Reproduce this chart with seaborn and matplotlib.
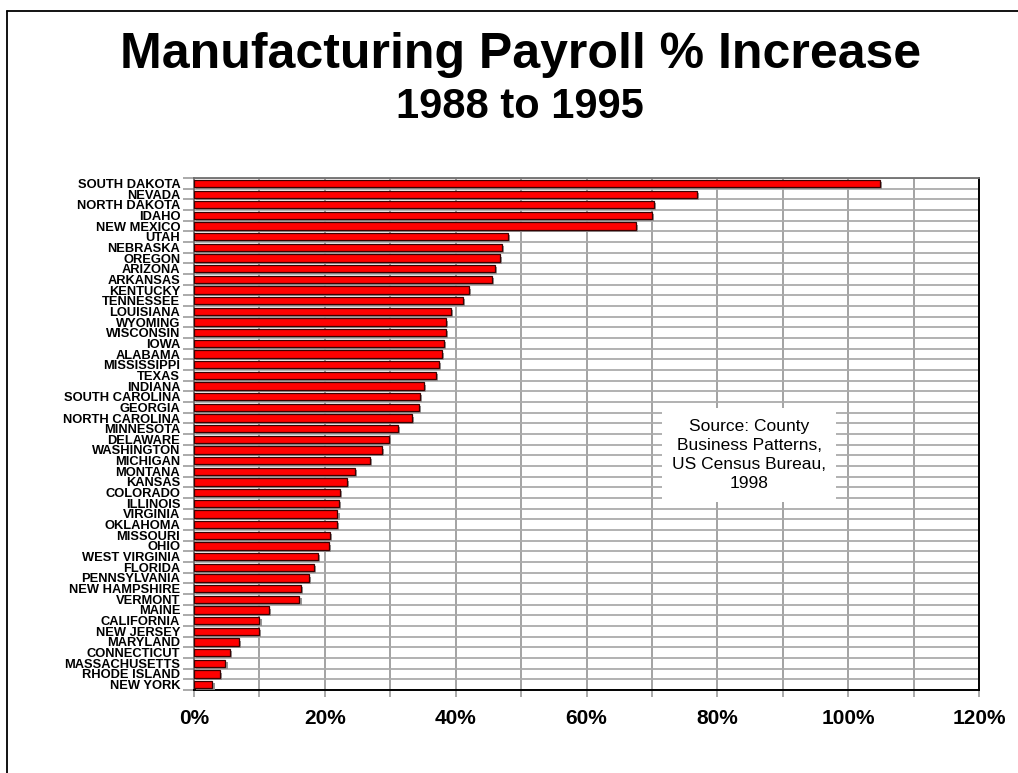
import numpy as np
import pandas as pd
import seaborn as sns
import matplotlib
matplotlib.use("Agg")
import matplotlib.pyplot as plt
import matplotlib.patheffects as pe
from matplotlib.lines import Line2D

states = ["SOUTH DAKOTA", "NEVADA", "NORTH DAKOTA", "IDAHO", "NEW MEXICO", "UTAH",
          "NEBRASKA", "OREGON", "ARIZONA", "ARKANSAS", "KENTUCKY", "TENNESSEE",
          "LOUISIANA", "WYOMING", "WISCONSIN", "IOWA", "ALABAMA", "MISSISSIPPI",
          "TEXAS", "INDIANA", "SOUTH CAROLINA", "GEORGIA", "NORTH CAROLINA",
          "MINNESOTA", "DELAWARE", "WASHINGTON", "MICHIGAN", "MONTANA", "KANSAS",
          "COLORADO", "ILLINOIS", "VIRGINIA", "OKLAHOMA", "MISSOURI", "OHIO",
          "WEST VIRGINIA", "FLORIDA", "PENNSYLVANIA", "NEW HAMPSHIRE", "VERMONT",
          "MAINE", "CALIFORNIA", "NEW JERSEY", "MARYLAND", "CONNECTICUT",
          "MASSACHUSETTS", "RHODE ISLAND", "NEW YORK"]
increase_pct = [104.8, 76.9, 70.3, 70.0, 67.5, 48.0,
                47.1, 46.8, 46.0, 45.5, 42.0, 41.1,
                39.3, 38.5, 38.5, 38.2, 37.9, 37.4,
                37.0, 35.1, 34.5, 34.4, 33.3,
                31.2, 29.8, 28.7, 26.9, 24.6, 23.4,
                22.3, 22.1, 21.9, 21.8, 20.8, 20.6,
                18.9, 18.3, 17.5, 16.3, 16.1,
                11.4, 10.0, 9.9, 6.8, 5.5,
                4.8, 3.9, 2.8]
x_ticks = [0, 20, 40, 60, 80, 100, 120]
x_tick_labels = ["0%", "20%", "40%", "60%", "80%", "100%", "120%"]
title = "Manufacturing Payroll % Increase"
subtitle = "1988 to 1995"
source_note = "Source: County\nBusiness Patterns,\nUS Census Bureau,\n1998"

df = pd.DataFrame({"state": states, "pct": increase_pct})

sns.set_theme(style="white")
plt.rcParams["font.family"] = ["Liberation Sans", "DejaVu Sans"]

fig = plt.figure(figsize=(10.18, 7.73), dpi=100)
ax = fig.add_axes([0.1906, 0.1074, 0.7711, 0.6623])

sns.barplot(data=df, x="pct", y="state", orient="h", color="#ff0000",
            saturation=1, width=0.66, edgecolor="#3a0000", linewidth=0.9,
            ax=ax, zorder=3)
for p in ax.patches:
    p.set_path_effects([pe.SimplePatchShadow(offset=(1.6, -1.6),
                                             shadow_rgbFace="#8c8c8c", alpha=0.9),
                        pe.Normal()])

ax.set_xlim(0, 120)
ax.set_ylim(len(states) - 0.5, -0.5)
ax.set_xticks(x_ticks)
ax.set_xticklabels(x_tick_labels)
ax.set_xticks(np.arange(0, 121, 10), minor=True)
ax.set_yticks(np.arange(-0.5, len(states), 1), minor=True)

ax.grid(axis="x", which="minor", color="#9c9c9c", linewidth=1.3, zorder=0)
ax.grid(axis="x", which="major", color="#9c9c9c", linewidth=1.3, zorder=0)
ax.grid(axis="y", which="minor", color="#ababab", linewidth=1.3, zorder=0)
ax.set_axisbelow(True)

ax.tick_params(axis="y", which="major", length=0, pad=10)
ax.tick_params(axis="y", which="minor", length=8, width=1.2, color="#9c9c9c",
               direction="out", left=True)
ax.tick_params(axis="x", which="both", length=5, width=1.2, color="#9c9c9c",
               direction="out", bottom=True, pad=9)

for lab in ax.get_yticklabels():
    lab.set_fontweight("bold")
    lab.set_fontsize(9.3)
    lab.set_color("black")
for lab in ax.get_xticklabels():
    lab.set_fontweight("bold")
    lab.set_fontsize(15)
    lab.set_color("black")

ax.set_xlabel("")
ax.set_ylabel("")
for side in ["top", "left"]:
    ax.spines[side].set_color("#707070")
    ax.spines[side].set_linewidth(1.3)
for side in ["bottom", "right"]:
    ax.spines[side].set_color("black")
    ax.spines[side].set_linewidth(1.4)

ax.text(0.707, 0.459, source_note, transform=ax.transAxes, ha="center",
        va="center", fontsize=12.5, linespacing=1.35, color="black", zorder=5,
        bbox=dict(boxstyle="square,pad=0.6", facecolor="white", edgecolor="none"))

fig.text(0.511, 1 - 55 / 773, title, ha="center", va="center",
         fontsize=36, fontweight="bold", color="black")
fig.text(0.511, 1 - 107 / 773, subtitle, ha="center", va="center",
         fontsize=30, fontweight="bold", color="black")

fig.add_artist(Line2D([7 / 1018, 1.0], [1 - 11 / 773, 1 - 11 / 773],
                      transform=fig.transFigure, color="black", linewidth=1.3))
fig.add_artist(Line2D([7 / 1018, 7 / 1018], [0.0, 1 - 11 / 773],
                      transform=fig.transFigure, color="black", linewidth=1.3))

fig.savefig("out.png", dpi=100, facecolor="white")
